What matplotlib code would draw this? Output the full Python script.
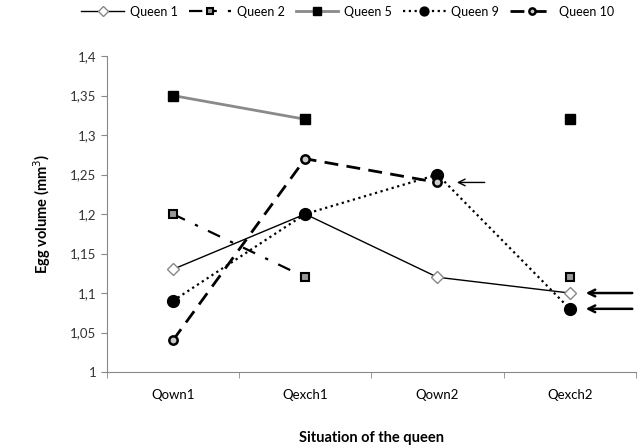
import matplotlib
matplotlib.use("Agg")
import matplotlib.pyplot as plt
import numpy as np

plt.rcParams["font.family"] = ["Lato", "DejaVu Sans"]

situations = ["Qown1", "Qexch1", "Qown2", "Qexch2"]
queen_1 = [1.13, 1.20, 1.12, 1.10]
queen_2 = [1.20, 1.12, np.nan, 1.12]
queen_5 = [1.35, 1.32, np.nan, 1.32]
queen_9 = [1.09, 1.20, 1.25, 1.08]
queen_10 = [1.04, 1.27, 1.24, np.nan]
y_ticks = [1.0, 1.05, 1.1, 1.15, 1.2, 1.25, 1.3, 1.35, 1.4]

# arrows: (category index, value) they point at
arrow_targets = [(2, 1.24), (3, 1.10), (3, 1.08)]

fig = plt.figure(figsize=(6.43, 4.45), dpi=100)
ax = fig.add_axes([0.166, 0.164, 0.823, 0.71])

x = np.arange(len(situations))

ax.plot(x, queen_1, color="black", lw=1.0, marker="D", ms=6.5,
        mfc="white", mec="#888888", mew=1.0, label="Queen 1")
ax.plot(x, queen_2, color="black", lw=1.6, dashes=(6, 5, 1.5, 5), marker="s", ms=6,
        mfc="#999999", mec="black", mew=1.5, label="Queen 2")
ax.plot(x, queen_5, color="#8a8a8a", lw=2.0, marker="s", ms=7.5,
        mfc="black", mec="black", label="Queen 5")
ax.plot(x, queen_9, color="black", lw=1.6, ls=(0, (1, 1.6)), marker="o", ms=8.5,
        mfc="black", mec="black", label="Queen 9")
ax.plot(x, queen_10, color="black", lw=2.0, dashes=(5, 3), marker="o", ms=6,
        mfc="#cccccc", mec="black", mew=1.8, label="Queen 10")

for i, (cx, cy) in enumerate(arrow_targets):
    lw = 1.0 if i == 0 else 1.8
    tail = 34 if i == 0 else 45
    gap = 14 if i == 0 else 11.5
    ax.annotate("", xy=(cx, cy), xytext=(tail, 0), textcoords="offset points",
                arrowprops=dict(arrowstyle="->", color="black", lw=lw,
                                shrinkA=0, shrinkB=gap, mutation_scale=12))

ax.set_xlim(-0.5, 3.5)
ax.set_ylim(1.0, 1.4)
ax.set_xticks(x)
ax.set_xticklabels(situations, fontsize=9.5)
ax.set_xticks(np.arange(-0.5, 4.0, 1.0), minor=True)
ax.tick_params(axis="x", which="major", length=0, pad=12)
ax.tick_params(axis="x", which="minor", length=4, direction="out", color="#888888")
ax.set_yticks(y_ticks)
ax.set_yticklabels([f"{v:g}".replace(".", ",") for v in y_ticks], fontsize=9.5, color="#333333")
ax.tick_params(axis="y", length=4, direction="out", color="#888888")

for side in ["top", "right"]:
    ax.spines[side].set_visible(False)
for side in ["left", "bottom"]:
    ax.spines[side].set_color("#888888")

ax.set_ylabel("Egg volume (mm$^3$)", fontsize=10.5, fontweight="bold", labelpad=12)
ax.set_xlabel("Situation of the queen", fontsize=10.5, fontweight="bold", labelpad=22)

ax.legend(loc="center", bbox_to_anchor=(0.455, 1.14), ncol=5, frameon=False,
          fontsize=9, handlelength=3.4, columnspacing=0.9, handletextpad=0.45,
          markerscale=0.75, borderpad=0)

fig.savefig("out.png", dpi=100)
